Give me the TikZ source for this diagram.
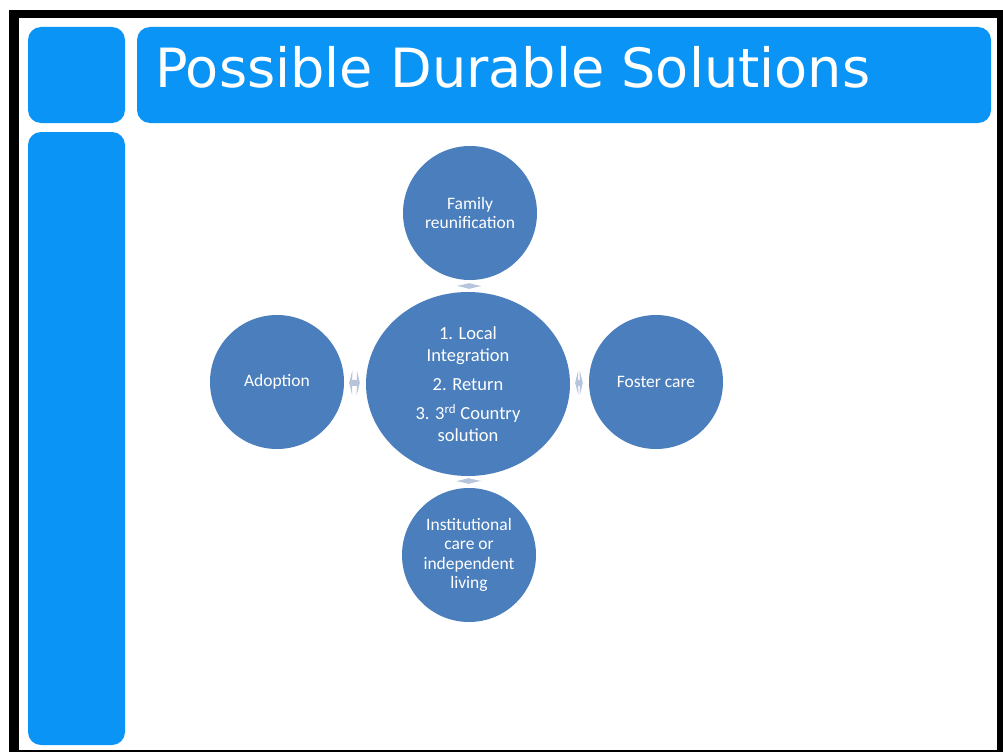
\documentclass[tikz,border=0pt]{standalone}
\usepackage{fontspec}
\usepackage{graphicx}
\usetikzlibrary{shapes.geometric,arrows.meta}
\setmainfont{Carlito}
\newfontfamily\titlefont{DejaVu Sans}
\definecolor{barblue}{RGB}{10,148,245}
\definecolor{circblue}{RGB}{74,126,188}
\definecolor{arrowc}{RGB}{182,196,220}
\tikzset{
  bar/.style={fill=barblue, draw=none, rounded corners=13pt},
  outer/.style={circle, fill=circblue, draw=none, minimum size=134pt, inner sep=0pt,
    text=white, align=center, font=\fontsize{17.5}{19.5}\selectfont},
  hub/.style={ellipse, fill=circblue, draw=none, minimum width=204pt, minimum height=184pt,
    inner sep=0pt, text=white, align=center, font=\fontsize{18.5}{22}\selectfont},
  link/.style={draw=arrowc, fill=arrowc, line width=6pt,
    {Triangle[width=24pt,length=3pt]}-{Triangle[width=24pt,length=3pt]}}
}
\begin{document}
\begin{tikzpicture}[x=1pt,y=-1pt]
\useasboundingbox (0,0) rectangle (1003,752);
% frame
\fill[white] (0,0) rectangle (1003,752);
\fill[black] (9,10) rectangle (1003,752);
\fill[white] (19,18) rectangle (997,750);
% bars
\fill[bar] (28,27) rectangle (125,123);
\fill[bar] (137,27) rectangle (991,123);
\fill[bar] (28,132) rectangle (125,745);
\node[anchor=base west, inner sep=0pt, text=white] (title) at (155,88)
  {\resizebox{715pt}{!}{\titlefont Possible Durable Solutions}};
% circles
\node[hub] (hub) at (468,384) {1. Local\\Integration\\[7pt]2. Return\\[7pt]3. 3\textsuperscript{rd} Country\\solution};
\node[outer] (fam) at (470,213) {Family\\reunification};
\node[outer] (adopt) at (277,382) {Adoption};
\node[outer] (foster) at (656,382) {Foster care};
\node[outer] (inst) at (469,555) {Institutional\\care or\\independent\\living};
% arrows
\draw[link, shorten <=6pt, shorten >=5pt] (hub) -- (adopt);
\draw[link, shorten <=5pt, shorten >=6pt] (hub) -- (foster);
\draw[link, shorten <=3pt, shorten >=3pt] (hub) -- (fam);
\draw[link, shorten <=2pt, shorten >=4pt] (hub) -- (inst);
\end{tikzpicture}
\end{document}
